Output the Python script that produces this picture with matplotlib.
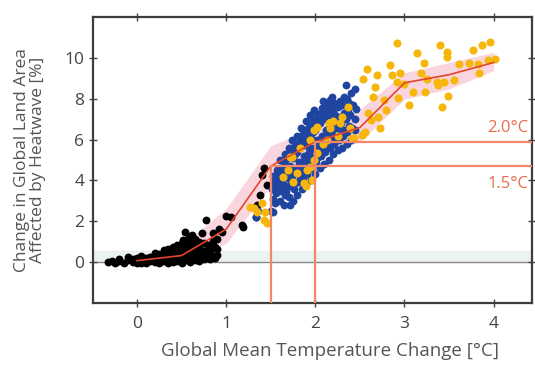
import matplotlib
matplotlib.use('Agg')
import matplotlib.pyplot as plt

plt.rcParams['font.family'] = ['Open Sans', 'DejaVu Sans']

# --- dati ---
# curva mediana e fascia di incertezza
med_x = [0.0, 0.5, 1.0, 1.5, 2.0, 2.5, 3.0, 3.5, 4.0]
med_y = [0.05, 0.3, 1.6, 4.7, 5.9, 6.6, 8.8, 9.2, 9.8]
band_hi = [0.3, 0.8, 2.6, 5.7, 6.6, 7.5, 9.3, 9.8, 10.3]
band_lo = [-0.1, 0.0, 0.9, 3.7, 5.2, 5.9, 8.0, 8.5, 9.4]

# punti neri (osservazioni)
black_x = [-0.32, -0.28, -0.25, -0.2, -0.15, -0.1, -0.05, 0.0, 0.05, 0.1, 0.15, 0.2, 0.25,
           0.3, 0.35, 0.4, 0.45, 0.5, 0.55, 0.6, 0.65, 0.7, 0.75, 0.8, 0.85, 0.9,
           -0.2, -0.1, 0.0, 0.05, 0.1, 0.15, 0.2, 0.25, 0.3, 0.35, 0.4, 0.45, 0.5, 0.55,
           0.6, 0.65, 0.7, 0.75, 0.8, 0.9,
           0.3, 0.4, 0.45, 0.5, 0.55, 0.6, 0.62, 0.65, 0.58, 0.52, 0.7, 0.75, 0.85, 0.9,
           0.54, 0.73, 0.77, 0.95, 1.0, 1.18, 1.05, 0.78, 0.85, 0.92, 1.19, 1.33, 1.38,
           1.46, 1.4, 1.35, 1.42, 0.2, 0.35, 0.48, 0.12,
           0.32, 0.38, 0.42, 0.48, 0.52, 0.58, 0.62, 0.68, 0.72, 0.78, 0.82, 0.88, 0.45,
           0.55, 0.6, 0.65, 0.7, 0.68, 0.62, 0.5, 0.4, 0.35, 0.25, 0.15, 0.05, -0.05,
           0.22, 0.28, 0.82, 0.88, 0.73, 0.57, 0.47]
black_y = [0.0, 0.05, -0.05, 0.05, -0.05, 0.1, 0.0, -0.05, 0.1, -0.05, 0.05, 0.0, -0.05,
           0.05, -0.05, 0.0, 0.05, -0.05, 0.1, 0.0, 0.1, 0.05, 0.15, 0.2, 0.3, 0.35,
           0.15, 0.25, 0.2, 0.3, 0.2, 0.25, 0.3, 0.2, 0.35, 0.3, 0.45, 0.35, 0.5, 0.4,
           0.6, 0.5, 0.7, 0.5, 0.8, 0.6,
           0.55, 0.7, 0.8, 0.9, 0.85, 1.0, 1.3, 1.1, 1.2, 1.05, 0.95, 0.9, 1.0, 1.1,
           1.47, 1.4, 2.05, 1.47, 2.25, 1.8, 2.2, 0.5, 1.4, 1.6, 1.72, 2.2, 3.28,
           3.77, 4.26, 2.8, 4.6, 0.45, 0.6, 0.65, 0.15,
           0.15, 0.25, 0.2, 0.3, 0.25, 0.35, 0.3, 0.4, 0.3, 0.35, 0.5, 0.7, 0.55,
           0.65, 0.8, 0.75, 0.55, 0.95, 0.65, 0.7, 0.35, 0.45, 0.4, 0.1, -0.05, 0.15,
           0.12, 0.28, 0.15, 0.2, 0.22, 0.12, 0.1]

# punti blu (modelli)
blue_x = [1.50, 1.52, 1.51, 1.53, 1.55, 1.56, 1.54, 1.57, 1.60, 1.61, 1.59, 1.62, 1.60,
          1.65, 1.66, 1.64, 1.67, 1.65, 1.66, 1.70, 1.71, 1.69, 1.72, 1.70, 1.71,
          1.75, 1.76, 1.74, 1.77, 1.75, 1.76, 1.74, 1.80, 1.81, 1.79, 1.82, 1.80, 1.81, 1.79,
          1.85, 1.86, 1.84, 1.87, 1.85, 1.86, 1.84, 1.90, 1.91, 1.89, 1.92, 1.90, 1.91, 1.89,
          1.95, 1.96, 1.94, 1.97, 1.95, 1.96, 1.94, 2.00, 2.01, 1.99, 2.02, 2.00, 2.01, 1.99,
          2.05, 2.06, 2.04, 2.07, 2.05, 2.06, 2.10, 2.11, 2.09, 2.12, 2.10, 2.11, 2.09,
          2.15, 2.16, 2.14, 2.17, 2.15, 2.16, 2.20, 2.21, 2.19, 2.22, 2.20, 2.21, 2.19,
          2.25, 2.26, 2.24, 2.27, 2.25, 2.30, 2.31, 2.29, 2.32, 2.30, 2.34, 2.45,
          2.35, 2.36, 2.34, 2.37, 2.35, 2.40, 2.41, 2.39, 2.42, 2.40, 2.45, 2.44, 2.46,
          1.33, 1.36, 1.72, 1.52, 1.98, 2.17,
          1.575, 1.575, 1.625, 1.625,
          1.675, 1.675, 1.675, 1.725, 1.725, 1.725,
          1.775, 1.775, 1.775, 1.775, 1.825, 1.825, 1.825, 1.825,
          1.875, 1.875, 1.875, 1.875, 1.925, 1.925, 1.925, 1.925,
          1.975, 1.975, 1.975, 1.975, 2.025, 2.025, 2.025, 2.025,
          2.075, 2.075, 2.075, 2.075, 2.125, 2.125, 2.125, 2.125,
          2.175, 2.175, 2.175, 2.175, 2.225, 2.225, 2.225,
          2.275, 2.275, 2.275, 2.325, 2.325, 2.325,
          2.375, 2.375, 2.375]
blue_y = [2.5, 3.1, 3.6, 4.2, 2.9, 3.4, 3.9, 4.5, 3.0, 3.5, 4.0, 4.6, 5.0,
          2.8, 3.3, 3.8, 4.3, 4.9, 5.3, 3.2, 3.7, 4.1, 4.7, 5.2, 5.6,
          3.0, 3.6, 4.2, 4.6, 5.1, 5.5, 6.0, 3.3, 3.9, 4.4, 4.9, 5.4, 5.8, 6.2,
          3.6, 4.1, 4.7, 5.2, 5.7, 6.3, 6.6, 3.8, 4.3, 4.8, 5.3, 5.9, 6.4, 6.9,
          4.0, 4.6, 5.1, 5.6, 6.1, 6.7, 7.2, 4.3, 4.9, 5.4, 6.0, 6.5, 7.0, 7.4,
          4.6, 5.2, 5.7, 6.2, 6.8, 7.3, 4.8, 5.4, 5.9, 6.5, 7.0, 7.5, 7.9,
          5.0, 5.6, 6.2, 6.7, 7.2, 7.7, 5.3, 5.8, 6.3, 6.9, 7.4, 7.8, 8.1,
          5.5, 6.0, 6.6, 7.1, 7.6, 5.6, 6.2, 6.8, 7.3, 7.7, 8.7, 8.5,
          5.8, 6.4, 7.0, 7.5, 8.0, 6.0, 6.6, 7.2, 7.7, 8.3, 6.5, 7.0, 7.5,
          2.2, 2.5, 2.8, 2.45, 7.45, 7.95,
          3.7, 4.25, 3.75, 4.3,
          3.5, 4.5, 5.05, 3.9, 4.45, 5.4,
          3.85, 4.35, 5.3, 5.75, 4.15, 4.65, 5.6, 6.0,
          4.4, 4.95, 5.95, 6.5, 4.55, 5.6, 6.15, 6.65,
          4.85, 5.35, 6.4, 6.95, 5.15, 5.7, 6.75, 7.2,
          5.45, 5.95, 7.05, 7.55, 5.65, 6.2, 7.25, 7.7,
          5.9, 6.45, 7.45, 7.95, 6.1, 7.2, 7.7,
          6.3, 6.85, 7.9, 6.5, 7.05, 8.1,
          6.7, 7.25, 7.8]

# punti gialli (modelli)
yellow_x = [1.40, 1.35, 1.42, 1.46, 1.31, 1.44, 1.27,
            1.98, 2.17, 2.20, 1.94, 2.09, 1.83, 1.74, 1.69, 1.79, 1.91, 1.98, 1.75, 1.89, 1.96,
            1.64, 2.02, 1.72, 2.02, 2.15, 2.28, 2.13, 1.94, 1.87, 2.41, 2.54, 2.30, 2.37, 2.25,
            2.58, 2.54, 2.92, 3.40, 3.48, 3.48, 3.77, 3.87, 3.96, 3.14, 3.22, 2.84, 2.69, 2.86,
            2.95, 2.92, 3.00, 3.18, 3.25, 3.36, 3.44, 3.38, 3.55, 3.61, 3.72, 3.82, 3.83, 4.02,
            3.94, 2.67, 2.65, 2.77, 2.93, 3.05, 3.10, 3.23, 3.49, 3.42, 2.79, 2.59, 2.70, 2.62,
            2.73, 2.56, 2.52, 2.43, 2.39]
yellow_y = [2.9, 2.46, 2.05, 1.9, 2.63, 2.45, 2.7,
            6.47, 6.6, 6.9, 6.0, 5.8, 5.6, 5.15, 4.5, 4.35, 4.5, 5.0, 3.9, 3.7, 4.0,
            4.15, 5.35, 5.15, 6.63, 6.8, 6.8, 6.0, 4.66, 3.86, 6.1, 6.3, 7.1, 7.6, 6.2,
            9.5, 9.0, 10.75, 10.65, 10.3, 10.05, 10.4, 10.65, 10.8, 10.25, 9.8, 9.67, 9.2, 9.2,
            9.3, 8.85, 8.75, 9.3, 9.0, 8.85, 8.85, 8.7, 8.95, 9.75, 9.8, 9.75, 9.3, 9.95,
            9.9, 8.6, 8.1, 7.95, 8.05, 7.7, 8.35, 8.35, 8.15, 7.6, 7.46, 7.3, 7.1, 6.97,
            6.56, 6.38, 6.23, 6.07, 6.6]

# soglie 1.5 e 2.0 gradi
soglie_t = [1.5, 2.0]
soglie_v = [4.7, 5.9]
soglie_lab = ['1.5°C', '2.0°C']
soglie_lab_y = [3.82, 6.57]

# --- grafico ---
fig = plt.figure(figsize=(5.35, 3.65), dpi=100)
ax = fig.add_axes([0.1744, 0.169, 0.82, 0.785])
xmin, xmax = -0.49, 4.43
ymin, ymax = -2.05, 12.05

ax.axhspan(0, 0.5, color='#eaf2f2', zorder=0)
ax.axhline(0, color='#8a8a8a', lw=1, zorder=1)
ax.fill_between(med_x, band_lo, band_hi, color='#f8cfd8', alpha=0.85, lw=0, zorder=1)

ax.scatter(black_x, black_y, s=32, color='black', lw=0, zorder=2)
ax.scatter(blue_x, blue_y, s=32, color='#1f45a0', lw=0, zorder=3)
ax.scatter(yellow_x, yellow_y, s=34, color='#f6b60c', lw=0, zorder=4)

ax.plot(med_x, med_y, color='#e5452c', lw=1.2, zorder=5)

for t, v, lab, ly in zip(soglie_t, soglie_v, soglie_lab, soglie_lab_y):
    ax.plot([t, t], [ymin, v], color='#f2876a', lw=1.6, zorder=5)
    ax.plot([t, xmax], [v, v], color='#f2876a', lw=1.6, zorder=5)
    ax.text(4.39, ly, lab, color='#ec6a4a', fontsize=12, ha='right', va='center')

ax.set_xlim(xmin, xmax)
ax.set_ylim(ymin, ymax)
ax.set_xticks([0, 1, 2, 3, 4])
ax.set_yticks([0, 2, 4, 6, 8, 10])
ax.tick_params(direction='inout', length=6, width=1, color='#444444', labelcolor='#444444',
               labelsize=12.5, top=True, right=True)
ax.tick_params(axis='x', pad=6)
for s in ax.spines.values():
    s.set_color('#3d3d3d')
    s.set_linewidth(1.6)

ax.set_xlabel('Global Mean Temperature Change [°C]', fontsize=13.5, color='#555555', labelpad=6)
ax.xaxis.set_label_coords(0.54, -0.135)
ax.set_ylabel('Change in Global Land Area\nAffected by Heatwave [%]', fontsize=12.5,
              color='#555555', labelpad=13, linespacing=1.0)

plt.savefig('out.png', dpi=100)
